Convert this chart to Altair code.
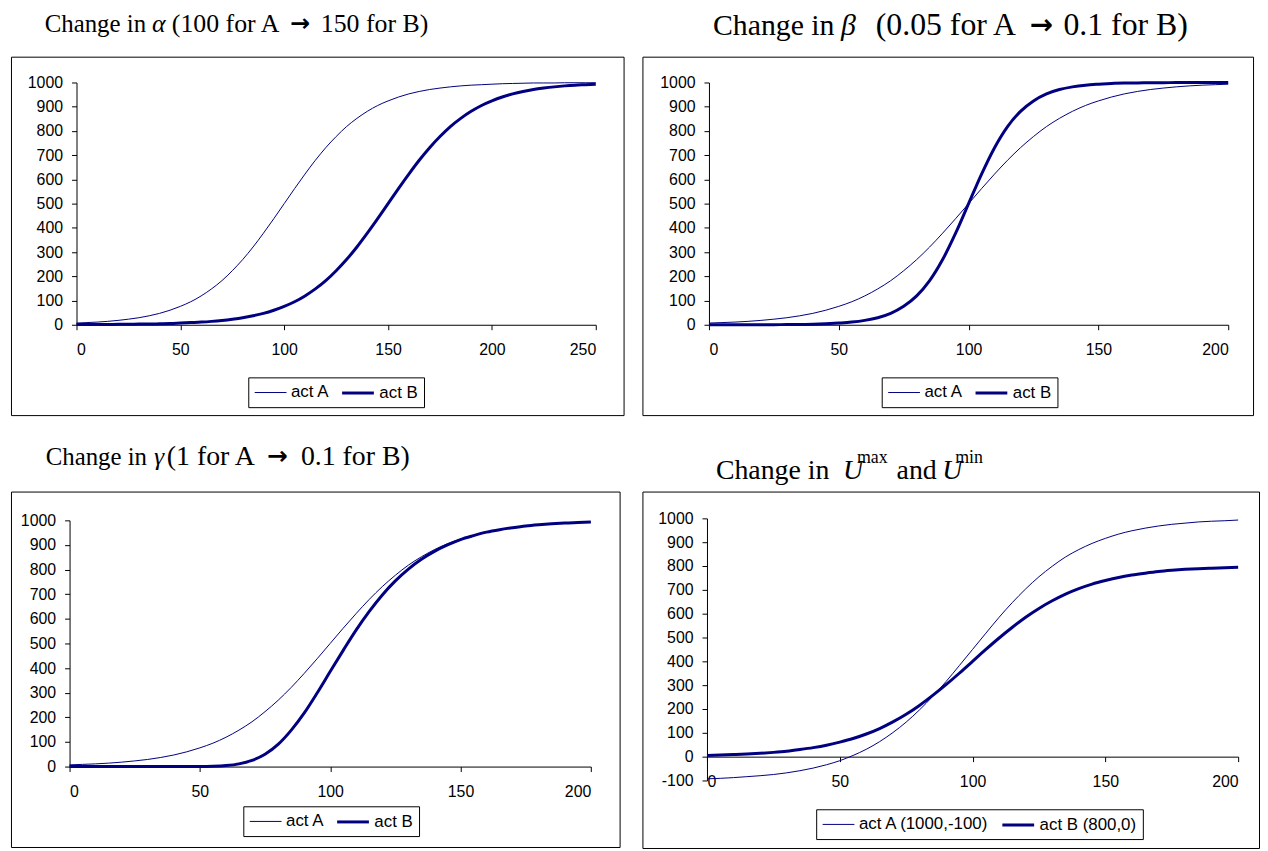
import altair as alt
import pandas as pd

# ---------------- data ----------------
X250 = list(range(0, 255, 5))
X200 = list(range(0, 205, 5))

# Panel 1: change in alpha
alpha_A = [7, 9, 11, 14, 18, 23, 29, 37, 47, 60, 76, 95, 119, 148, 182, 223, 269, 321, 378, 438,
           500, 562, 622, 679, 731, 777, 818, 852, 881, 905, 924, 940, 953, 963, 971, 977, 982, 986,
           989, 991, 993, 995, 996, 997, 998, 998, 998, 999, 999, 999, 999]
alpha_B = [1, 1, 1, 1, 2, 2, 3, 3, 4, 5, 7, 9, 11, 14, 18, 23, 29, 37, 47, 60,
           76, 95, 119, 148, 182, 223, 269, 321, 378, 438, 500, 562, 622, 679, 731, 777, 818, 852,
           881, 905, 924, 940, 953, 963, 971, 977, 982, 986, 989, 991, 993]

# Panel 2: change in beta
beta_A = [7, 9, 11, 14, 18, 23, 29, 37, 47, 60, 76, 95, 119, 148, 182, 223, 269, 321, 378, 438,
          500, 562, 622, 679, 731, 777, 818, 852, 881, 905, 924, 940, 953, 963, 971, 977, 982, 986,
          989, 991, 993]
beta_B = [0, 0, 0, 0, 0, 0, 1, 1, 2, 4, 7, 11, 18, 29, 47, 76, 119, 182, 269, 378,
          500, 622, 731, 818, 881, 924, 953, 971, 982, 989, 993, 996, 998, 998, 999, 999, 1000, 1000,
          1000, 1000, 1000]

# Panel 3: change in gamma
gamma_A = [7, 9, 11, 14, 18, 23, 29, 37, 47, 60, 76, 95, 119, 148, 182, 223, 269, 321, 378, 438,
           500, 562, 622, 679, 731, 777, 818, 852, 881, 905, 924, 940, 953, 963, 971, 977, 982, 986,
           989, 991, 993]
gamma_B = [0, 0, 0, 0, 0, 0, 0, 0, 0, 0, 0, 1, 4, 11, 25, 50, 90, 147, 217, 299,
           386, 472, 555, 630, 697, 754, 802, 842, 874, 900, 922, 938, 952, 962, 970, 977, 982, 986,
           989, 991, 993]

# Panel 4: change in Umax and Umin
u_A = [-93, -91, -88, -84, -80, -75, -68, -59, -48, -34, -17, 5, 31, 63, 101, 145, 196, 253, 315, 382,
       450, 518, 585, 647, 704, 755, 799, 838, 869, 895, 916, 934, 948, 959, 968, 975, 980, 985,
       988, 990, 993]
u_B = [5, 7, 9, 11, 14, 18, 23, 30, 38, 48, 61, 76, 95, 118, 146, 178, 215, 257, 302, 350,
       400, 450, 498, 543, 585, 622, 654, 682, 705, 724, 739, 752, 762, 770, 777, 782, 786, 789,
       791, 793, 795]

SERIES_AB = ["act A", "act B"]
SERIES_U = ["act A (1000,-100)", "act B (800,0)"]

X_TICKS_250 = [0, 50, 100, 150, 200, 250]
X_TICKS_200 = [0, 50, 100, 150, 200]
Y_TICKS = list(range(0, 1001, 100))
Y_TICKS_U = list(range(-100, 1001, 100))

TITLE_1 = ["Change in ", "α", "(100 for A", "→", "150 for B)"]
TITLE_2 = ["Change in ", "β", "(0.05 for A", "→", "0.1 for B)"]
TITLE_3 = ["Change in ", "γ", "(1 for A", "→", "0.1 for B)"]
TITLE_4 = ["Change in ", "U", "max", "and", "U", "min"]

# ---------------- styling ----------------
NAVY = "#000080"
SANS = "Liberation Sans"
SERIF = "Liberation Serif"
ARROWFONT = "DejaVu Sans"


def text_seg(txt, x, y, size=26, style="normal", font=SERIF, weight="normal"):
    return alt.Chart(pd.DataFrame({"t": [txt]})).mark_text(
        align="left", baseline="alphabetic", font=font, fontSize=size,
        fontStyle=style, fontWeight=weight, color="black"
    ).encode(text="t:N", x=alt.value(x), y=alt.value(y))


def panel(xs, a, b, names, xdom, xticks, ydom, yticks, W, H, xr, yr, y0px, legxy, segs):
    df = pd.DataFrame({
        "x": xs + xs,
        "y": a + b,
        "series": [names[0]] * len(xs) + [names[1]] * len(xs),
    })
    leg = alt.Legend(
        title=None, orient="none", legendX=legxy[0], legendY=legxy[1],
        direction="horizontal", symbolType="M-2,0H2", symbolSize=256,
        symbolOffset=8, labelOffset=12,
        labelFont=SANS, labelFontSize=17, labelColor="black",
        strokeColor="black", fillColor="white", padding=6,
        columnPadding=6,
    )
    lines = alt.Chart(df).mark_line(interpolate="monotone").encode(
        x=alt.X("x:Q",
                scale=alt.Scale(domain=xdom, range=xr, nice=False, zero=False),
                axis=alt.Axis(values=xticks, title=None, offset=y0px - H, grid=False,
                              labelPadding=12, tickSize=5, labelExpr="'' + datum.value")),
        y=alt.Y("y:Q",
                scale=alt.Scale(domain=ydom, range=yr, nice=False, zero=False),
                axis=alt.Axis(values=yticks, title=None, offset=-xr[0], grid=False,
                              labelPadding=9, tickSize=5, labelExpr="'' + datum.value")),
        color=alt.Color("series:N", scale=alt.Scale(domain=names, range=[NAVY, NAVY]), legend=leg),
        strokeWidth=alt.StrokeWidth("series:N", scale=alt.Scale(domain=names, range=[1, 3]), legend=leg),
    )
    texts = [text_seg(**s) for s in segs]
    return alt.layer(lines, *texts).properties(width=W, height=H)


def title_row(parts, xs, y, sizes, arrow_size):
    return [
        dict(txt=parts[0], x=xs[0], y=y, size=sizes[0]),
        dict(txt=parts[1], x=xs[1], y=y, size=sizes[1], style="italic"),
        dict(txt=parts[2], x=xs[2], y=y, size=sizes[2]),
        dict(txt=parts[3], x=xs[3], y=y - 1, size=arrow_size, font=ARROWFONT, weight="bold"),
        dict(txt=parts[4], x=xs[4], y=y, size=sizes[2]),
    ]


p1 = panel(X250, alpha_A, alpha_B, SERIES_AB, [0, 250], X_TICKS_250, [0, 1000], Y_TICKS,
           617, 361, [66, 589], [270, 26], 270, (239, 323),
           title_row(TITLE_1, [34, 142, 162, 281, 312], -25, [25, 26, 26], 24))
p2 = panel(X200, beta_A, beta_B, SERIES_AB, [0, 200], X_TICKS_200, [0, 1000], Y_TICKS,
           615, 361, [67, 590], [270, 26], 270, (241, 323),
           title_row(TITLE_2, [71, 200, 235, 390, 424], -22, [30, 30, 32], 28))
p3 = panel(X200, gamma_A, gamma_B, SERIES_AB, [0, 200], X_TICKS_200, [0, 1000], Y_TICKS,
           613, 358, [59, 584], [277, 29], 277, (234, 317),
           title_row(TITLE_3, [35, 144, 157, 258, 292], -27, [25, 26, 28], 25))
p4 = panel(X200, u_A, u_B, SERIES_U, [0, 200], X_TICKS_200, [-100, 1000], Y_TICKS_U,
           621, 359, [65, 600], [291, 27], 267, (175, 320),
           [dict(txt=TITLE_4[0], x=74, y=-13, size=28),
            dict(txt=TITLE_4[1], x=202, y=-13, size=28, style="italic"),
            dict(txt=TITLE_4[2], x=216, y=-29, size=18),
            dict(txt=TITLE_4[3], x=256, y=-13, size=28),
            dict(txt=TITLE_4[4], x=302, y=-13, size=28, style="italic"),
            dict(txt=TITLE_4[5], x=315, y=-29, size=18)])

indep = dict(color="independent", strokeWidth="independent")

row1 = alt.hconcat(p1, p2, spacing=19, bounds="flush").resolve_scale(**indep)
row2 = alt.hconcat(p3, p4, spacing=23, bounds="flush").resolve_scale(**indep)

chart = alt.vconcat(row1, row2, spacing=26).resolve_scale(**indep).properties(
    padding={"left": 2, "top": -3, "right": 0, "bottom": 0},
    background="white",
).configure_view(
    stroke="black", strokeWidth=1, fill="white"
).configure_axis(
    labelFont=SANS, labelFontSize=16, labelColor="black",
    domainColor="black", tickColor="black", domainWidth=1, tickWidth=1,
)

chart.save("out.html", embed_options={"renderer": "svg", "actions": False})
